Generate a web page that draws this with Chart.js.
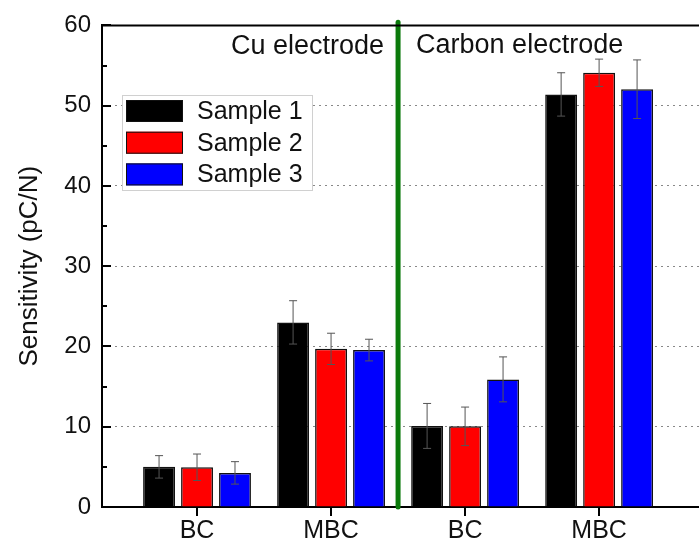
<!DOCTYPE html>
<html>
<head>
<meta charset="utf-8">
<script src="https://cdn.jsdelivr.net/npm/chart.js@4/dist/chart.umd.min.js"></script>
<style>
  html, body { margin: 0; padding: 0; background: #fff; overflow: hidden; }
  #wrap { width: 699px; height: 549px; overflow: hidden; }
</style>
</head>
<body>
<div id="wrap"><canvas id="sensChart" width="720" height="549"></canvas></div>
<script>
// data
var categories = ["BC", "MBC", "BC", "MBC"];
var xPos = [1, 2, 3, 4];
var sample1 = [5.0, 23.0, 10.1, 51.4];
var sample2 = [4.95, 19.7, 10.05, 54.1];
var sample3 = [4.25, 19.55, 15.9, 52.05];
var err1 = [1.4, 2.7, 2.8, 2.7];
var err2 = [1.65, 1.95, 2.4, 1.7];
var err3 = [1.4, 1.35, 2.8, 3.65];
var seriesNames = ["Sample 1", "Sample 2", "Sample 3"];
var seriesColors = ["#000000", "#ff0000", "#0000ff"];
var dividerX = 2.5;
var regionLabels = ["Cu electrode", "Carbon electrode"];

var FONT = "'Liberation Sans', Arial, sans-serif";

function toPoints(vals) {
    return vals.map(function (v, i) { return { x: xPos[i], y: v }; });
}

function barSet(i, vals, errs) {
    return {
        type: "bar",
        label: seriesNames[i],
        data: toPoints(vals),
        errors: errs,
        backgroundColor: seriesColors[i],
        borderColor: "#111",
        borderWidth: 1.5,
        categoryPercentage: 0.85,
        barPercentage: 0.84,
        order: 2
    };
}

// error bars, drawn over the bars
var errorBars = {
    id: "errorBars",
    afterDatasetsDraw: function (chart) {
        var ctx = chart.ctx, y = chart.scales.y;
        ctx.save();
        ctx.strokeStyle = "#555";
        ctx.lineWidth = 1;
        chart.data.datasets.forEach(function (ds, di) {
            if (!ds.errors) return;
            var meta = chart.getDatasetMeta(di);
            meta.data.forEach(function (bar, i) {
                var v = ds.data[i].y, e = ds.errors[i];
                var top = y.getPixelForValue(v + e), bot = y.getPixelForValue(v - e);
                ctx.beginPath();
                ctx.moveTo(bar.x, top); ctx.lineTo(bar.x, bot);
                ctx.moveTo(bar.x - 4, top); ctx.lineTo(bar.x + 4, top);
                ctx.moveTo(bar.x - 4, bot); ctx.lineTo(bar.x + 4, bot);
                ctx.stroke();
            });
        });
        ctx.restore();
    }
};

// axis ticks, top frame line, region labels, legend box
var decorations = {
    id: "decorations",
    afterDraw: function (chart) {
        var ctx = chart.ctx, a = chart.chartArea, x = chart.scales.x, y = chart.scales.y;
        ctx.save();
        ctx.strokeStyle = "#000";
        ctx.lineWidth = 2;
        ctx.beginPath();
        for (var v = 0; v <= 60; v += 5) {
            var py = Math.round(y.getPixelForValue(v));
            ctx.moveTo(a.left, py);
            ctx.lineTo(a.left + (v % 10 === 0 ? 9 : 5), py);
        }
        xPos.forEach(function (xv) {
            var px = Math.round(x.getPixelForValue(xv));
            ctx.moveTo(px, a.bottom);
            ctx.lineTo(px, a.bottom + 9);
        });
        ctx.moveTo(a.left - 1, a.top);
        ctx.lineTo(a.right, a.top);
        ctx.stroke();

        // region labels either side of the divider
        ctx.fillStyle = "#111";
        ctx.font = "27px " + FONT;
        ctx.textBaseline = "alphabetic";
        var dx = x.getPixelForValue(dividerX);
        ctx.textAlign = "right";
        ctx.fillText(regionLabels[0], dx - 14, a.top + 29);
        ctx.textAlign = "left";
        ctx.fillText(regionLabels[1], dx + 18, a.top + 28);

        // legend
        var lx = 122, ly = 95, lw = 190, lh = 95;
        ctx.fillStyle = "#fff";
        ctx.fillRect(lx, ly, lw, lh);
        ctx.strokeStyle = "#d0d0d0";
        ctx.lineWidth = 1;
        ctx.strokeRect(lx + 0.5, ly + 0.5, lw, lh);
        ctx.font = "25px " + FONT;
        ctx.textBaseline = "middle";
        var bars = chart.data.datasets.filter(function (d) { return d.type === "bar"; });
        bars.forEach(function (ds, i) {
            var ry = ly + 5 + i * 31.7;
            ctx.fillStyle = ds.backgroundColor;
            ctx.fillRect(lx + 4, ry, 57, 22);
            ctx.strokeStyle = "#111";
            ctx.strokeRect(lx + 4.5, ry + 0.5, 56, 21);
            ctx.fillStyle = "#111";
            ctx.fillText(ds.label, lx + 75, ry + 12);
        });
        ctx.restore();
    }
};

var chart = new Chart("sensChart", {
    data: {
        datasets: [
            barSet(0, sample1, err1),
            barSet(1, sample2, err2),
            barSet(2, sample3, err3),
            {
                type: "line",
                label: "divider",
                data: [{ x: dividerX, y: 0 }, { x: dividerX, y: 60.4 }],
                borderColor: "#0b7a0b",
                borderWidth: 5,
                borderCapStyle: "round",
                pointRadius: 0,
                clip: false,
                order: 1
            }
        ]
    },
    options: {
        responsive: false,
        animation: false,
        layout: { padding: { top: 19, left: 0, right: 0, bottom: 0 } },
        plugins: { legend: { display: false }, tooltip: { enabled: false } },
        scales: {
            x: {
                type: "linear",
                offset: false,
                min: 0.291,
                max: 4.902,
                afterBuildTicks: function (axis) {
                    axis.ticks = xPos.map(function (v) { return { value: v }; });
                },
                afterFit: function (axis) { axis.height = 42; },
                ticks: {
                    includeBounds: false,
                    callback: function (v) { return categories[xPos.indexOf(v)]; },
                    font: { family: FONT, size: 25 },
                    color: "#111",
                    padding: 1,
                    maxRotation: 0
                },
                grid: { display: false },
                border: { color: "#000", width: 2 }
            },
            y: {
                min: 0,
                max: 60,
                afterFit: function (axis) { axis.width = 102; },
                ticks: {
                    stepSize: 10,
                    font: { family: FONT, size: 24 },
                    color: "#111",
                    padding: 11
                },
                grid: {
                    drawTicks: false,
                    lineWidth: 1,
                    color: function (c) {
                        var v = c.tick.value;
                        return (v === 0 || v === 60) ? "rgba(0,0,0,0)" : "#888";
                    }
                },
                border: { color: "#000", width: 2, dash: [2, 4] },
                title: {
                    display: true,
                    text: "Sensitivity (pC/N)",
                    font: { family: FONT, size: 26 },
                    color: "#111",
                    padding: { top: 14, bottom: 0 }
                }
            }
        }
    },
    plugins: [errorBars, decorations]
});
</script>
</body>
</html>
